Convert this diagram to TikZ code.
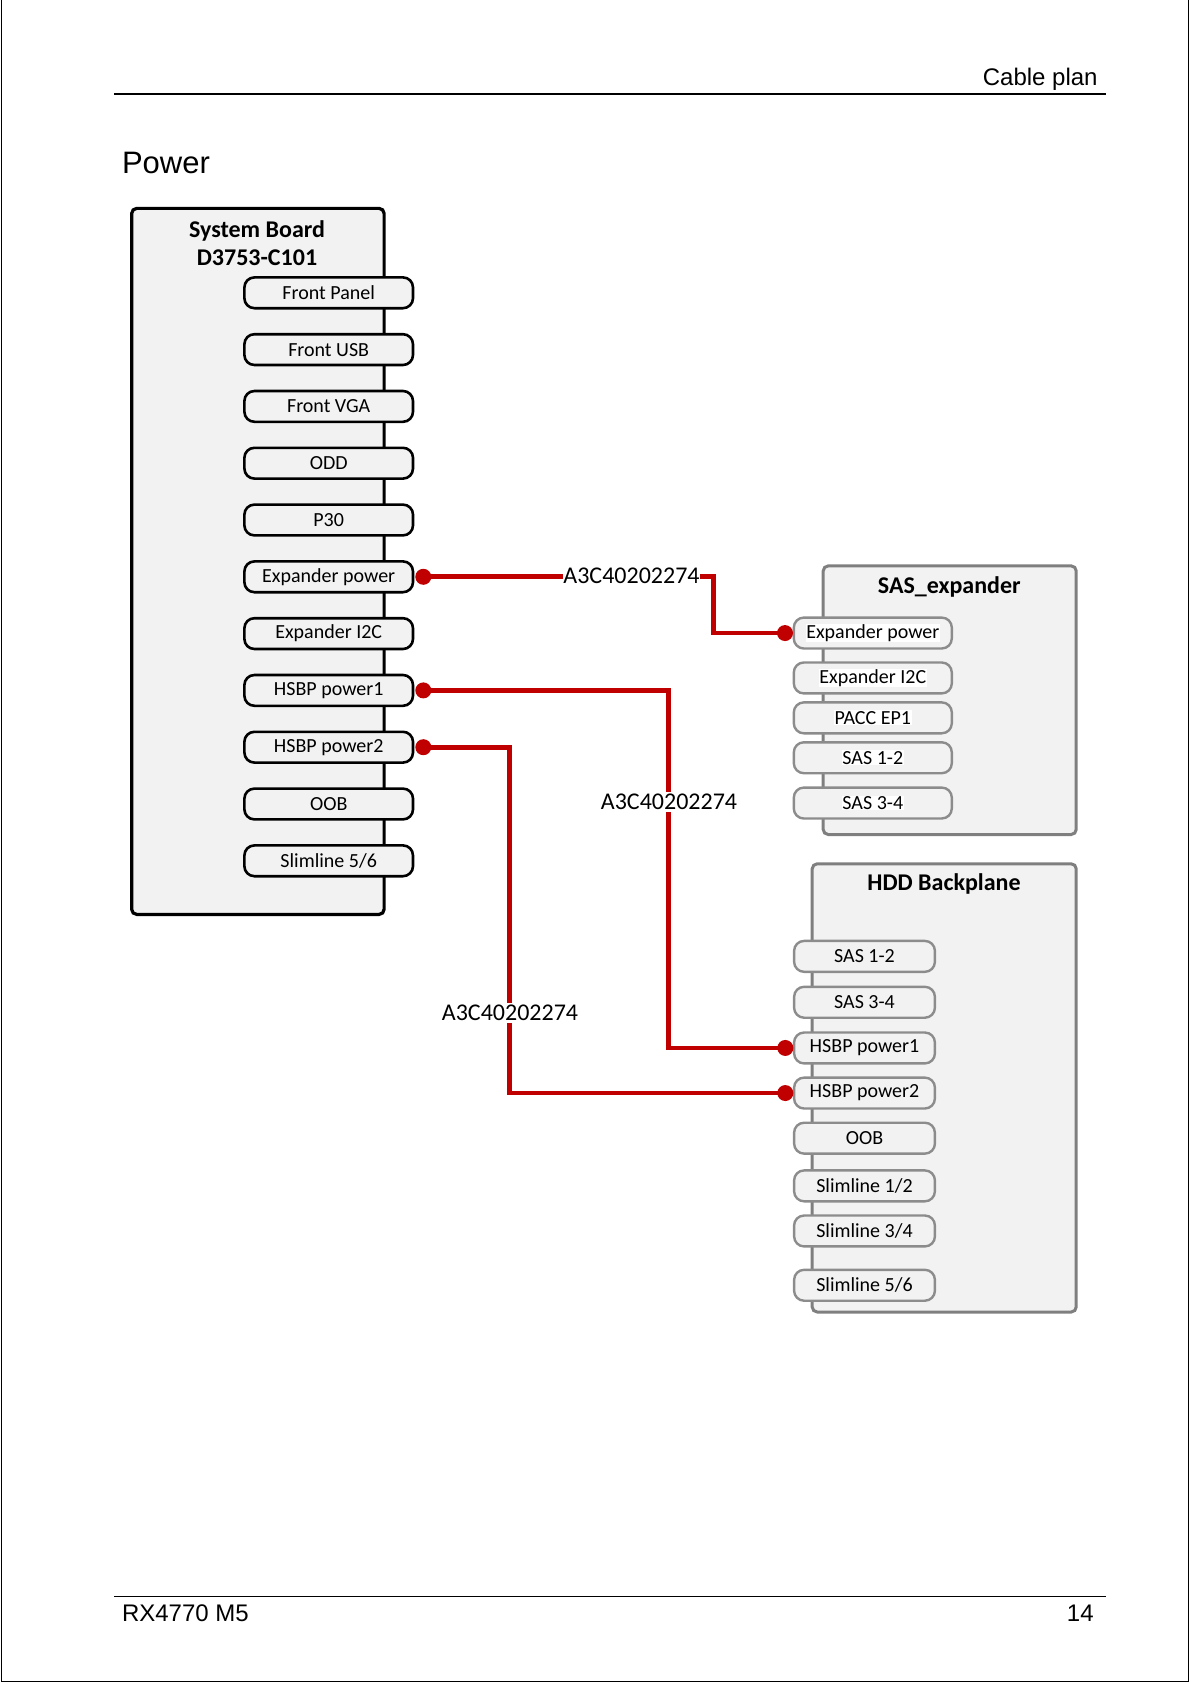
\documentclass[tikz,border=0pt]{standalone}
\usepackage{fontspec}
\setmainfont{Carlito}
\newfontfamily\pagefont{Liberation Sans}
\usetikzlibrary{positioning}
\usetikzlibrary{matrix}

\definecolor{boxgray}{HTML}{F2F2F2}
\definecolor{edgegray}{HTML}{7F7F7F}
\definecolor{portgray}{HTML}{8C8C8C}
\definecolor{cabred}{HTML}{C00000}

\newcommand{\whitebg}[1]{{\setlength{\fboxsep}{0.4pt}\colorbox{white}{#1}}}

\begin{document}
\begin{tikzpicture}[x=0.5pt, y=-0.5pt, font=\fontsize{10pt}{12pt}\selectfont,
    board/.style={draw, line width=1.6pt, rounded corners=2.5pt, fill=boxgray},
    module/.style={draw=edgegray, line width=1.5pt, rounded corners=2.5pt, fill=boxgray},
    title/.style={align=center, font=\fontsize{12pt}{14pt}\selectfont\bfseries},
    sbport/.style={draw, line width=1.3pt, rounded corners=5pt, fill=boxgray,
      minimum width=84.3pt, minimum height=15.4pt, inner sep=1.5pt},
    grayport/.style={draw=portgray, line width=1.2pt, rounded corners=5pt, fill=boxgray,
      minimum height=15.45pt, inner sep=1.5pt},
    cable/.style={draw=cabred, line width=2.4pt},
    dot/.style={circle, fill=cabred, inner sep=0pt, minimum size=8pt},
    cablabel/.style={fill=white, inner sep=1pt, font=\fontsize{12pt}{14pt}\selectfont}]
    \useasboundingbox (0,0) rectangle (1191,1684);

    % Page
    \draw [line width=0.5pt] (1,0) -- (1,1681) -- (1188,1681) -- (1188,0);
    \draw [line width=1pt] (114,93.7) -- (1105.6,93.7);
    \draw [line width=0.5pt] (114,1596.3) -- (1105.6,1596.3);
    \node (hdr) [anchor=base east, inner sep=0pt, font=\pagefont\fontsize{12pt}{14pt}\selectfont] at (1098,86) {Cable plan};
    \node (heading) [anchor=base west, inner sep=0pt, font=\pagefont\fontsize{15.5pt}{18pt}\selectfont] at (121.6,173.3) {Power};
    \node (model) [anchor=base west, inner sep=0pt, font=\pagefont\fontsize{12pt}{14pt}\selectfont] at (121.6,1621.7) {RX4770 M5};
    \node (pagenum) [anchor=base east, inner sep=0pt, font=\pagefont\fontsize{12pt}{14pt}\selectfont] at (1094,1621.7) {14};

    % Boards
    \node (sysboard) [board, minimum width=126.2pt, minimum height=353pt] at (257.9,561.4) {};
    \node (sysboardtitle) [title] at (257,243) {System Board\\D3753-C101};
    \node (sasexp) [module, minimum width=126.5pt, minimum height=134.3pt] at (949.7,700.2) {};
    \node (sasexptitle) [title] at (949.3,587.3) {SAS\_expander};
    \node (hddbp) [module, minimum width=132pt, minimum height=224.1pt] at (944.2,1087.9) {};
    \node (hddbptitle) [title] at (944,884) {HDD Backplane};

    % Connectors
    \matrix [matrix of nodes, row sep=11.7pt, anchor=north, inner sep=0pt] (sbports) at (328.7,275.7) {
      \node (sbfrontpanel) [sbport] {Front Panel}; \\
      \node (sbfrontusb) [sbport] {Front USB}; \\
      \node (sbfrontvga) [sbport] {Front VGA}; \\
      \node (sbodd) [sbport] {ODD}; \\
      \node (sbpthirty) [sbport] {P30}; \\
      \node (sbexppower) [sbport] {Expander power}; \\
      \node (sbexpitwoc) [sbport] {Expander I2C}; \\
      \node (sbhsbpone) [sbport] {HSBP power1}; \\
      \node (sbhsbptwo) [sbport] {HSBP power2}; \\
      \node (sboob) [sbport] {OOB}; \\
      \node (sbslimfivesix) [sbport] {Slimline 5/6}; \\
    };
    \matrix [matrix of nodes, row sep=3.3pt, anchor=north, inner sep=0pt] (sasports) at (872.8,616) {
      \node (sasexppower) [grayport, minimum width=79pt] {\whitebg{Expander power}}; \\[2.5pt]
      \node (sasexpitwoc) [grayport, minimum width=79pt] {\whitebg{Expander I2C}}; \\
      \node (saspacc) [grayport, minimum width=79pt] {\whitebg{PACC EP1}}; \\
      \node (sasonetwo) [grayport, minimum width=79pt] {\whitebg{SAS 1-2}}; \\[2.7pt]
      \node (sasthreefour) [grayport, minimum width=79pt] {\whitebg{SAS 3-4}}; \\
    };
    \matrix [matrix of nodes, row sep=5.9pt, anchor=north, inner sep=0pt] (hddports) at (864.5,939.3) {
      \node (hddsasonetwo) [grayport, minimum width=70.4pt] {SAS 1-2}; \\[0.4pt]
      \node (hddsasthreefour) [grayport, minimum width=70.4pt] {SAS 3-4}; \\[0.3pt]
      \node (hddhsbpone) [grayport, minimum width=70.4pt] {HSBP power1}; \\
      \node (hddhsbptwo) [grayport, minimum width=70.4pt] {HSBP power2}; \\
      \node (hddoob) [grayport, minimum width=70.4pt] {OOB}; \\[1.3pt]
      \node (hddslimonetwo) [grayport, minimum width=70.4pt] {Slimline 1/2}; \\
      \node (hddslimthreefour) [grayport, minimum width=70.4pt] {Slimline 3/4}; \\[4.6pt]
      \node (hddslimfivesix) [grayport, minimum width=70.4pt] {Slimline 5/6}; \\
    };

    % Cables
    \node (dexpa) [dot, right=4.5pt of sbexppower.east, anchor=center] {};
    \node (dexpb) [dot, left=3.8pt of sasexppower.west, anchor=center] {};
    \node (dhsbpa) [dot, right=4.5pt of sbhsbpone.east, anchor=center] {};
    \node (dhsbpb) [dot, left=3.8pt of hddhsbpone.west, anchor=center] {};
    \node (dhsbpc) [dot, right=4.5pt of sbhsbptwo.east, anchor=center] {};
    \node (dhsbpd) [dot, left=3.8pt of hddhsbptwo.west, anchor=center] {};
    \coordinate (expbend) at (713.3,576);

    \draw [cable] (dexpa.center) -- (dexpa.center -| expbend) |- (dexpb.center);
    \draw [cable] (dhsbpa.center) -- (dhsbpa.center -| 668.3,0) |- (dhsbpb.center);
    \draw [cable] (dhsbpc.center) -- (dhsbpc.center -| 509.3,0) |- (dhsbpd.center);

    \node (cabexp) [cablabel, inner sep=0pt] at (631.5,576) {A3C40202274};
    \node (cabhsbpa) [cablabel] at (669,802) {A3C40202274};
    \node (cabhsbpb) [cablabel] at (510,1013) {A3C40202274};
  \end{tikzpicture}
\end{document}
